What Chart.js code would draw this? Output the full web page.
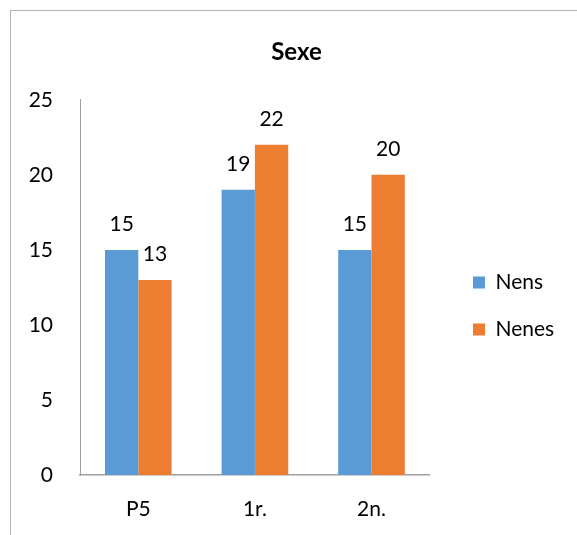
<!DOCTYPE html>
<html>
<head>
<meta charset="utf-8">
<title>Sexe</title>
<script src="https://cdn.jsdelivr.net/npm/chart.js@4/dist/chart.umd.min.js"></script>
<style>
  html, body { margin: 0; padding: 0; background: #fff; width: 577px; height: 535px; overflow: hidden; }
  canvas { display: block; }
</style>
</head>
<body>
<canvas id="chart" width="577" height="535"></canvas>
<script>
// Categories and values for each series
const categories = ['P5', '1r.', '2n.'];
const nens = [15, 19, 15];
const nenes = [13, 22, 20];
const seriesNames = ['Nens', 'Nenes'];
const yTickValues = [0, 5, 10, 15, 20, 25];

const FONT_FAMILY = 'Lato, "Open Sans", sans-serif';
const TEXT_COLOR = '#000000';
const AXIS_COLOR = '#a0a0a0';
const BLUE = '#5b9bd5';
const ORANGE = '#ed7d31';

// Thin frame around the whole chart (its right and bottom edges run past the page)
const framePlugin = {
  id: 'frame',
  beforeDraw(chart) {
    const ctx = chart.ctx;
    ctx.save();
    ctx.strokeStyle = '#b4b4b4';
    ctx.lineWidth = 1;
    ctx.strokeRect(10.5, 10.5, chart.width + 40, chart.height + 40);
    ctx.restore();
  }
};

// Value printed above each bar, taken from the bar element itself
const valueLabelPlugin = {
  id: 'valueLabels',
  afterDatasetsDraw(chart) {
    const ctx = chart.ctx;
    ctx.save();
    ctx.font = '21px ' + FONT_FAMILY;
    ctx.fillStyle = TEXT_COLOR;
    ctx.textAlign = 'center';
    ctx.textBaseline = 'middle';
    chart.data.datasets.forEach((ds, i) => {
      chart.getDatasetMeta(i).data.forEach((bar, j) => {
        ctx.fillText(String(ds.data[j]), bar.x, bar.y - 26);
      });
    });
    ctx.restore();
  }
};

// Centre the title on the framed box and set the legend block right of the plot
const placementPlugin = {
  id: 'placement',
  afterLayout(chart) {
    const t = chart.titleBlock;
    if (t) {
      const shift = 23;
      t.left += shift;
      t.right += shift;
    }
    const lg = chart.legend;
    if (!lg || !lg.columnSizes || !lg.columnSizes.length) return;
    const pad = lg.options.labels.padding;
    const boxLeft = 473;
    const firstItemTop = 272;
    lg.left = boxLeft - pad;
    lg.right = lg.left + lg.width;
    lg.top = firstItemTop - pad;
    lg.bottom = lg.top + pad + lg.columnSizes[0].height;
    lg.height = lg.bottom - lg.top;
  }
};

new Chart(document.getElementById('chart'), {
  type: 'bar',
  data: {
    labels: categories,
    datasets: [
      { label: seriesNames[0], data: nens, backgroundColor: BLUE, borderWidth: 0 },
      { label: seriesNames[1], data: nenes, backgroundColor: ORANGE, borderWidth: 0 }
    ]
  },
  options: {
    responsive: false,
    animation: false,
    devicePixelRatio: 1,
    layout: { padding: { left: 0, right: 30, top: 0, bottom: 0 } },
    datasets: {
      bar: { barPercentage: 1.0, categoryPercentage: 0.5714 }
    },
    scales: {
      x: {
        grid: { display: false, drawTicks: false },
        border: { display: true, color: AXIS_COLOR, width: 1.5 },
        ticks: {
          color: TEXT_COLOR,
          font: { family: FONT_FAMILY, size: 21 },
          padding: 22,
          maxRotation: 0
        },
        afterFit(scale) { scale.height = 60; }
      },
      y: {
        min: 0,
        max: 25,
        grid: { display: false, drawTicks: false },
        border: { display: true, color: AXIS_COLOR, width: 1 },
        ticks: {
          stepSize: 5,
          color: TEXT_COLOR,
          font: { family: FONT_FAMILY, size: 21 },
          padding: 27
        },
        afterBuildTicks(scale) {
          scale.ticks = yTickValues.map(v => ({ value: v }));
        },
        afterFit(scale) { scale.width = 80; }
      }
    },
    plugins: {
      title: {
        display: true,
        text: 'Sexe',
        color: TEXT_COLOR,
        font: { family: FONT_FAMILY, size: 24, weight: 'bold' },
        padding: { top: 38, bottom: 33 }
      },
      legend: {
        position: 'right',
        labels: {
          color: TEXT_COLOR,
          font: { family: FONT_FAMILY, size: 21 },
          boxWidth: 12,
          boxHeight: 12,
          padding: 26
        }
      },
      tooltip: { enabled: false }
    }
  },
  plugins: [framePlugin, valueLabelPlugin, placementPlugin]
});
</script>
</body>
</html>
